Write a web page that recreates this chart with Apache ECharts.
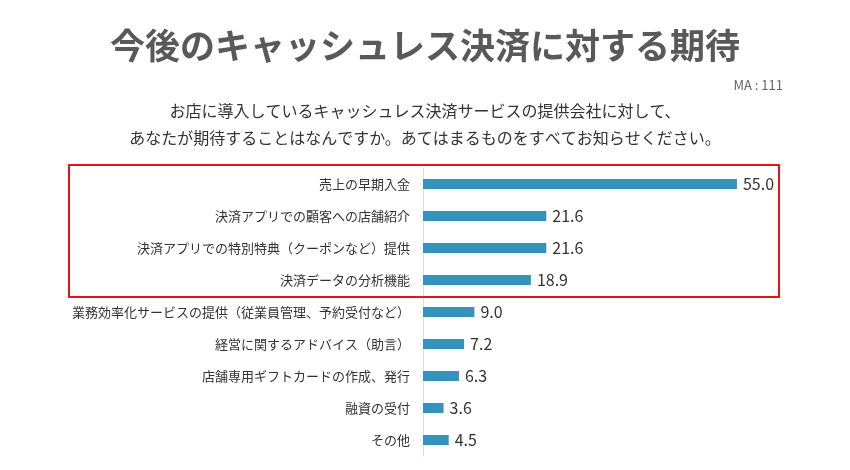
<!DOCTYPE html>
<html><head><meta charset="utf-8">
<script src="https://cdn.jsdelivr.net/npm/echarts@6/dist/echarts.min.js"></script>
<style>html,body{margin:0;padding:0;background:#fff}#c{width:850px;height:470px}</style>
</head><body><div id="c"></div>
<script>
const categories = [
  "売上の早期入金",
  "決済アプリでの顧客への店舗紹介",
  "決済アプリでの特別特典（クーポンなど）提供",
  "決済データの分析機能",
  "業務効率化サービスの提供（従業員管理、予約受付など）",
  "経営に関するアドバイス（助言）",
  "店舗専用ギフトカードの作成、発行",
  "融資の受付",
  "その他"
];
const values = [55.0, 21.6, 21.6, 18.9, 9.0, 7.2, 6.3, 3.6, 4.5];
const titleText = "今後のキャッシュレス決済に対する期待";
const subText = "お店に導入しているキャッシュレス決済サービスの提供会社に対して、\nあなたが期待することはなんですか。あてはまるものをすべてお知らせください。";
const noteText = "MA : 111";

const font = '"Noto Sans CJK JP", "Noto Sans", sans-serif';
const chart = echarts.init(document.getElementById('c'));
chart.setOption({
  backgroundColor: '#fff',
  textStyle: { fontFamily: font },
  title: [
    { text: titleText, left: 'center', top: 23,
      textStyle: { fontFamily: font, fontSize: 35, fontWeight: 'bold', color: '#595959' } },
    { text: subText, left: 'center', top: 92,
      textStyle: { fontFamily: font, fontSize: 16, fontWeight: 'normal', color: '#333', lineHeight: 27, align: 'center' } },
    { text: noteText, right: 62, top: 74,
      textStyle: { fontFamily: font, fontSize: 13, fontWeight: 'normal', color: '#666' } }
  ],
  grid: { left: 423, right: 84.5, top: 168, bottom: 14, containLabel: false },
  xAxis: { type: 'value', min: 0, max: 60, show: false },
  yAxis: {
    type: 'category', data: categories, inverse: true,
    axisLine: { show: true, lineStyle: { color: '#dcdcdc', width: 1 } },
    axisTick: { show: false },
    axisLabel: { fontFamily: font, fontSize: 13, color: '#333', margin: 13 }
  },
  series: [{
    type: 'bar', data: values, barWidth: 10,
    itemStyle: { color: '#3592bd' },
    label: { show: true, position: 'right', distance: 6, fontFamily: font, fontSize: 16, color: '#333',
      formatter: p => p.value.toFixed(1) }
  }],
  graphic: [{
    type: 'rect', shape: { x: 69, y: 165, width: 710, height: 132 },
    style: { fill: 'none', stroke: '#e8141b', lineWidth: 2 }, z: 10
  }]
});
</script></body></html>
